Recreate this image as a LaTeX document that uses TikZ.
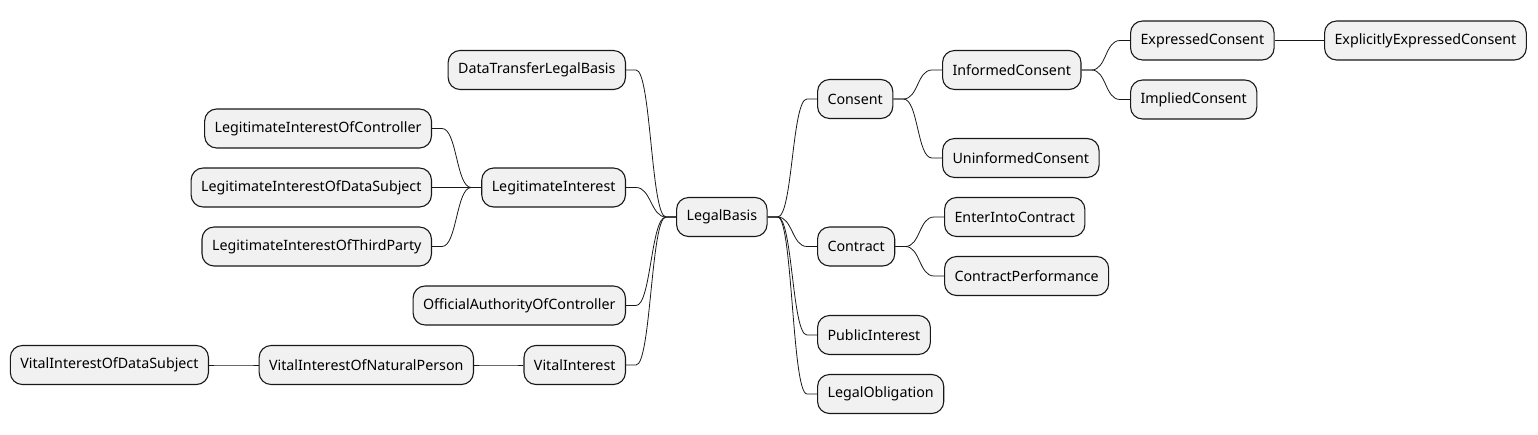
\documentclass[tikz,border=0pt]{standalone}
\usepackage{fontspec}
\setmainfont{Noto Sans}
\usepackage{tikz}

\definecolor{boxfill}{HTML}{F1F1F1}
\definecolor{boxline}{HTML}{181818}

\tikzset{
  idea/.style={draw=boxline, fill=boxfill, line width=1.1pt, rounded corners=12pt,
    minimum height=39pt, inner xsep=10pt, font=\fontsize{14.25}{16}\selectfont},
  rlink/.style={to path={(\tikztostart.east) -- ++(10,0) .. controls +(15,0) and +(-15,0) .. ([xshift=-10]\tikztotarget.west) -- (\tikztotarget.west)}},
  llink/.style={to path={(\tikztostart.west) -- ++(-10,0) .. controls +(-15,0) and +(15,0) .. ([xshift=10]\tikztotarget.east) -- (\tikztotarget.east)}}
}

\begin{document}
\begin{tikzpicture}[x=1pt, y=-1pt]
\useasboundingbox (0,0) rectangle (1538,434);

% centre
\node[idea, anchor=west] (lb) at (676,217) {LegalBasis};

% right side
\node[idea, anchor=west] (con) at (817,99) {Consent};
\node[idea, anchor=west] (inf) at (942,70) {InformedConsent};
\node[idea, anchor=west] (exp) at (1130,40.5) {ExpressedConsent};
\node[idea, anchor=west] (expl) at (1324,40.5) {ExplicitlyExpressedConsent};
\node[idea, anchor=west] (imp) at (1130,99.5) {ImpliedConsent};
\node[idea, anchor=west] (uninf) at (942,158) {UninformedConsent};
\node[idea, anchor=west] (ctr) at (817,246.5) {Contract};
\node[idea, anchor=west] (enter) at (944,217) {EnterIntoContract};
\node[idea, anchor=west] (perf) at (944,276) {ContractPerformance};
\node[idea, anchor=west] (pub) at (817,335) {PublicInterest};
\node[idea, anchor=west] (oblig) at (817,394) {LegalObligation};

% left side
\node[idea, anchor=east] (dtl) at (626,70) {DataTransferLegalBasis};
\node[idea, anchor=east] (leg) at (626,187.5) {LegitimateInterest};
\node[idea, anchor=east] (legc) at (432,128.5) {LegitimateInterestOfController};
\node[idea, anchor=east] (legd) at (432,187.5) {LegitimateInterestOfDataSubject};
\node[idea, anchor=east] (legt) at (432,246.5) {LegitimateInterestOfThirdParty};
\node[idea, anchor=east] (off) at (626,305.5) {OfficialAuthorityOfController};
\node[idea, anchor=east] (vit) at (626,365) {VitalInterest};
\node[idea, anchor=east] (vitn) at (474,365) {VitalInterestOfNaturalPerson};
\node[idea, anchor=east] (vitd) at (209,365) {VitalInterestOfDataSubject};

\begin{scope}[draw=boxline, line width=0.8pt]
\draw (lb) edge[rlink] (con);
\draw (lb) edge[rlink] (ctr);
\draw (lb) edge[rlink] (pub);
\draw (lb) edge[rlink] (oblig);
\draw (con) edge[rlink] (inf);
\draw (con) edge[rlink] (uninf);
\draw (inf) edge[rlink] (exp);
\draw (inf) edge[rlink] (imp);
\draw (exp) edge[rlink] (expl);
\draw (ctr) edge[rlink] (enter);
\draw (ctr) edge[rlink] (perf);
\draw (lb) edge[llink] (dtl);
\draw (lb) edge[llink] (leg);
\draw (lb) edge[llink] (off);
\draw (lb) edge[llink] (vit);
\draw (leg) edge[llink] (legc);
\draw (leg) edge[llink] (legd);
\draw (leg) edge[llink] (legt);
\draw (vit) edge[llink] (vitn);
\draw (vitn) edge[llink] (vitd);
\end{scope}
\end{tikzpicture}
\end{document}
